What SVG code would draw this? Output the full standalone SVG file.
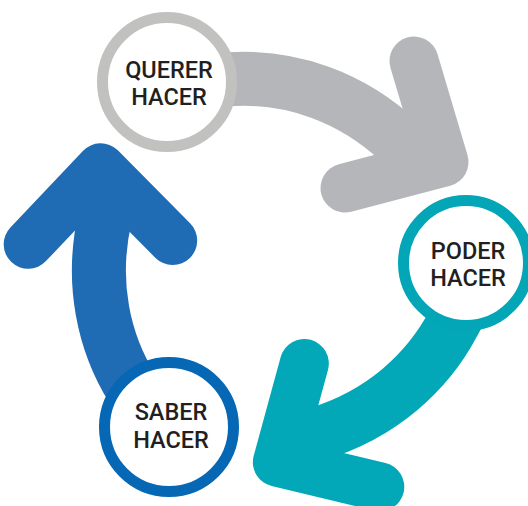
<svg xmlns="http://www.w3.org/2000/svg" xmlns:xlink="http://www.w3.org/1999/xlink" width="528" height="506" viewBox="0 0 528 506">
  <style>
    .ring { fill: #ffffff; stroke-width: 11; }
    .label { font-family: Roboto, "Liberation Sans", sans-serif; font-weight: 500; font-size: 23.5px; fill: #231f20; text-anchor: middle; }
    .shaft { fill: none; stroke-width: 54; stroke-linecap: butt; stroke-linejoin: round; }
    .head { fill: none; stroke-width: 49; stroke-linecap: round; stroke-linejoin: round; }
  </style>
  <defs>
    <g id="arrow">
      <path class="shaft" d="M 190 80 L 236 79 C 290 77 350 95 400 142 L 430 160"/>
      <path class="head" d="M 414 61 L 444 162 L 345 188"/>
    </g>
  </defs>
  <rect width="528" height="506" fill="#ffffff"/>
  <g id="connectors">
    <use id="arrow-querer-poder" xlink:href="#arrow" href="#arrow" stroke="#b5b6b9"/>
    <use id="arrow-poder-saber" xlink:href="#arrow" href="#arrow" stroke="#02a8b7" transform="rotate(120 274 264)"/>
    <use id="arrow-saber-querer" xlink:href="#arrow" href="#arrow" stroke="#1f6bb4" transform="rotate(240 274 264)"/>
  </g>
  <g id="querer-hacer">
    <circle class="ring" cx="167" cy="82" r="64.5" stroke="#c1c1bf"/>
    <text class="label" x="169" y="78">QUERER</text>
    <text class="label" x="169" y="105">HACER</text>
  </g>
  <g id="poder-hacer">
    <circle class="ring" cx="466" cy="263" r="62.5" stroke="#02a6b6"/>
    <text class="label" x="468" y="259">PODER</text>
    <text class="label" x="468" y="286">HACER</text>
  </g>
  <g id="saber-hacer">
    <circle class="ring" cx="169" cy="427" r="64.5" stroke="#0667b4"/>
    <text class="label" x="171" y="420">SABER</text>
    <text class="label" x="171" y="448">HACER</text>
  </g>
</svg>
